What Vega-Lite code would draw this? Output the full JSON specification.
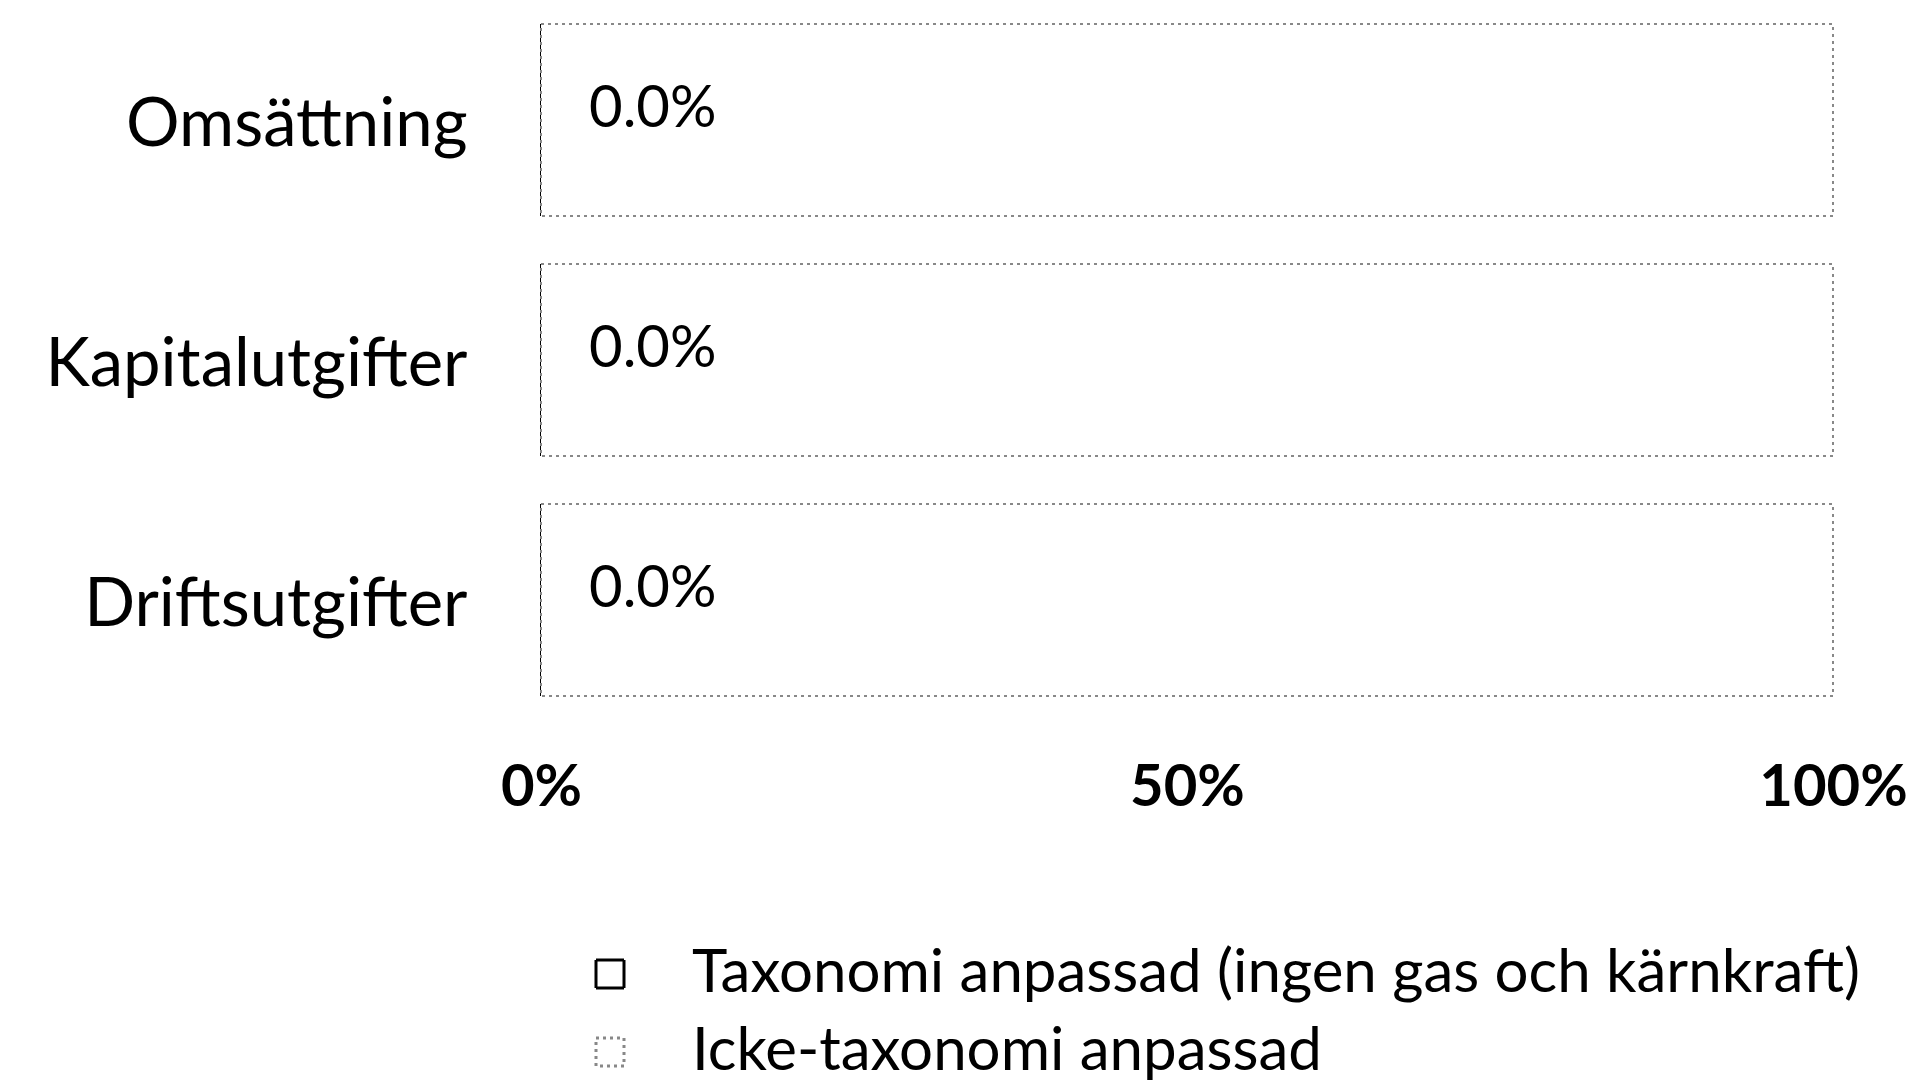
{
  "$schema": "https://vega.github.io/schema/vega-lite/v6.json",
  "width": 1292,
  "height": 720,
  "autosize": {"type": "none"},
  "padding": {"left": 541, "top": 0, "right": 93, "bottom": 364},
  "background": "white",
  "config": {"view": {"stroke": null}, "font": "Lato"},
  "data": {
    "values": [
      {"kategori": "Omsättning", "typ": "Taxonomi anpassad (ingen gas och kärnkraft)", "ordning": 1, "andel": 0},
      {"kategori": "Omsättning", "typ": "Icke-taxonomi anpassad", "ordning": 2, "andel": 1},
      {"kategori": "Kapitalutgifter", "typ": "Taxonomi anpassad (ingen gas och kärnkraft)", "ordning": 1, "andel": 0},
      {"kategori": "Kapitalutgifter", "typ": "Icke-taxonomi anpassad", "ordning": 2, "andel": 1},
      {"kategori": "Driftsutgifter", "typ": "Taxonomi anpassad (ingen gas och kärnkraft)", "ordning": 1, "andel": 0},
      {"kategori": "Driftsutgifter", "typ": "Icke-taxonomi anpassad", "ordning": 2, "andel": 1}
    ]
  },
  "encoding": {
    "y": {
      "field": "kategori", "type": "nominal",
      "sort": ["Omsättning", "Kapitalutgifter", "Driftsutgifter"],
      "scale": {"paddingInner": 0.2, "paddingOuter": 0.1},
      "axis": {"title": null, "domain": false, "ticks": false, "labelFontSize": 67, "labelColor": "#000000", "labelPadding": 74, "labelLimit": 700, "labelOffset": 6}
    }
  },
  "layer": [
    {
      "mark": {"type": "bar", "strokeWidth": 2},
      "encoding": {
        "x": {
          "field": "andel", "type": "quantitative", "stack": "zero",
          "scale": {"domain": [0, 1]},
          "axis": {"title": null, "values": [0, 0.5, 1], "format": ".0%", "domain": false, "ticks": false, "grid": false, "labelFontSize": 58, "labelFontWeight": "bold", "labelColor": "#000000", "labelPadding": 39, "labelFlush": false}
        },
        "order": {"field": "ordning", "type": "quantitative"},
        "fill": {
          "field": "typ", "type": "nominal",
          "sort": ["Taxonomi anpassad (ingen gas och kärnkraft)", "Icke-taxonomi anpassad"],
          "scale": {"range": ["#ffffff", "#ffffff"]},
          "legend": {
            "title": null, "orient": "none", "legendX": 39, "legendY": 944,
            "symbolType": "square", "symbolSize": 784, "symbolStrokeWidth": 3,
            "labelFontSize": 60, "labelColor": "#000000", "labelLimit": 1400, "labelOffset": 52,
            "rowPadding": 18,
            "encode": {"symbols": {"update": {
              "fill": {"value": "#ffffff"},
              "stroke": {"scale": "stroke", "field": "value"},
              "strokeDash": {"scale": "strokeDash", "field": "value"},
              "strokeWidth": {"value": 3}
            }}}
          }
        },
        "stroke": {
          "field": "typ", "type": "nominal",
          "sort": ["Taxonomi anpassad (ingen gas och kärnkraft)", "Icke-taxonomi anpassad"],
          "scale": {"range": ["#000000", "#888888"]},
          "legend": null
        },
        "strokeDash": {
          "field": "typ", "type": "nominal",
          "sort": ["Taxonomi anpassad (ingen gas och kärnkraft)", "Icke-taxonomi anpassad"],
          "scale": {"range": [[1, 0], [3, 4]]},
          "legend": null
        }
      }
    },
    {
      "transform": [{"filter": "datum.ordning == 1"}],
      "mark": {"type": "text", "align": "left", "baseline": "middle", "dx": 48, "dy": -10, "fontSize": 58, "color": "#000000"},
      "encoding": {
        "x": {"field": "andel", "type": "quantitative"},
        "text": {"field": "andel", "type": "quantitative", "format": ".1%"}
      }
    }
  ]
}
